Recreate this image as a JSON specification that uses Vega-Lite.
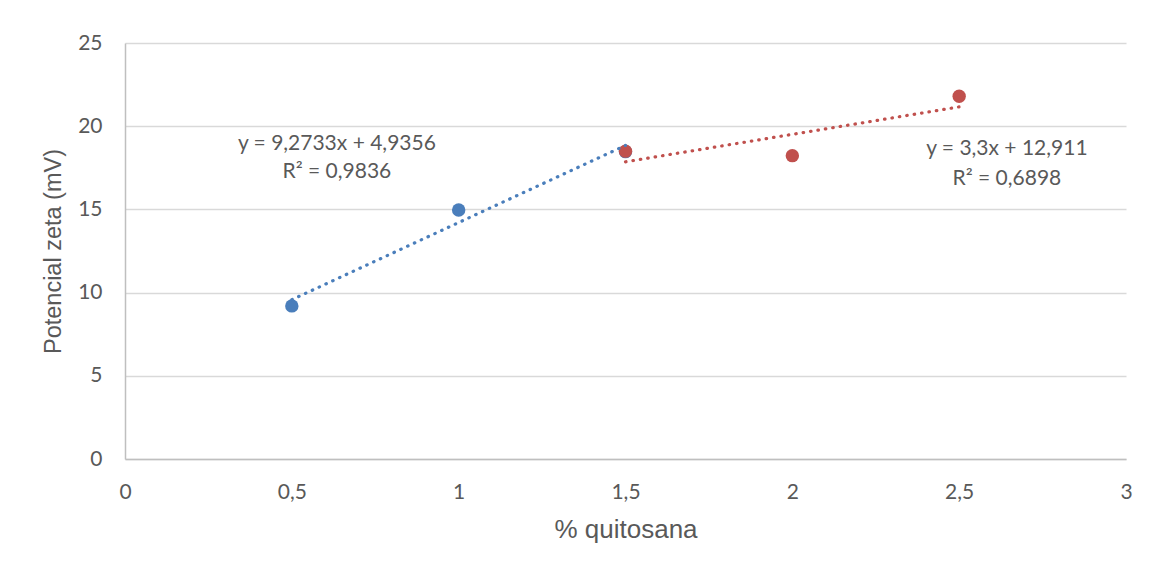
{
  "$schema": "https://vega.github.io/schema/vega-lite/v6.json",
  "width": 1001,
  "height": 416,
  "autosize": {"type": "none"},
  "padding": {"left": 125, "top": 43, "right": 23, "bottom": 107},
  "background": "white",
  "config": {
    "view": {"stroke": null},
    "font": "Lato",
    "axis": {
      "labelFont": "Lato",
      "titleFont": "Liberation Sans",
      "labelColor": "#595959",
      "titleColor": "#595959",
      "labelFontSize": 21,
      "titleFontWeight": "normal",
      "labelFlush": false,
      "labelOverlap": false,
      "ticks": false,
      "domainColor": "#bfbfbf",
      "domainWidth": 1.5,
      "gridColor": "#d9d9d9",
      "gridWidth": 1.5
    }
  },
  "datasets": {
    "pts": [
      {"quitosana": 0.5, "zeta": 9.2, "serie": "A"},
      {"quitosana": 1.0, "zeta": 14.96, "serie": "A"},
      {"quitosana": 1.5, "zeta": 18.47, "serie": "A"},
      {"quitosana": 1.5, "zeta": 18.5, "serie": "B"},
      {"quitosana": 2.0, "zeta": 18.23, "serie": "B"},
      {"quitosana": 2.5, "zeta": 21.8, "serie": "B"}
    ],
    "labels": [
      {"x": 0.635, "y": 18.95, "texto": "y = 9,2733x + 4,9356"},
      {"x": 0.635, "y": 17.25, "texto": "R² = 0,9836"},
      {"x": 2.643, "y": 18.65, "texto": "y = 3,3x + 12,911"},
      {"x": 2.643, "y": 16.85, "texto": "R² = 0,6898"}
    ]
  },
  "layer": [
    {
      "data": {"name": "pts"},
      "mark": {"type": "circle", "size": 180, "opacity": 1},
      "encoding": {
        "x": {
          "field": "quitosana", "type": "quantitative",
          "scale": {"domain": [0, 3], "nice": false},
          "axis": {
            "values": [0, 0.5, 1, 1.5, 2, 2.5, 3],
            "grid": false,
            "labelPadding": 22,
            "titlePadding": 14,
            "titleFontSize": 26,
            "labelExpr": "replace(format(datum.value, '~g'), '.', ',')"
          },
          "title": "% quitosana"
        },
        "y": {
          "field": "zeta", "type": "quantitative",
          "scale": {"domain": [0, 25], "nice": false},
          "axis": {
            "values": [0, 5, 10, 15, 20, 25],
            "grid": true,
            "labelPadding": 23,
            "titlePadding": 12,
            "titleFontSize": 23.5
          },
          "title": "Potencial zeta (mV)"
        },
        "color": {
          "field": "serie", "type": "nominal",
          "scale": {"domain": ["A", "B"], "range": ["#4A7EBB", "#C0504D"]},
          "legend": null
        }
      }
    },
    {
      "data": {"name": "pts"},
      "transform": [
        {"regression": "zeta", "on": "quitosana", "groupby": ["serie"]}
      ],
      "mark": {"type": "line", "strokeWidth": 3.2, "strokeDash": [0.5, 7], "strokeCap": "round"},
      "encoding": {
        "x": {"field": "quitosana", "type": "quantitative"},
        "y": {"field": "zeta", "type": "quantitative"},
        "color": {"field": "serie", "type": "nominal", "legend": null}
      }
    },
    {
      "data": {"name": "labels"},
      "mark": {"type": "text", "fontSize": 21, "color": "#595959", "font": "Lato"},
      "encoding": {
        "x": {"field": "x", "type": "quantitative"},
        "y": {"field": "y", "type": "quantitative"},
        "text": {"field": "texto"}
      }
    }
  ]
}
